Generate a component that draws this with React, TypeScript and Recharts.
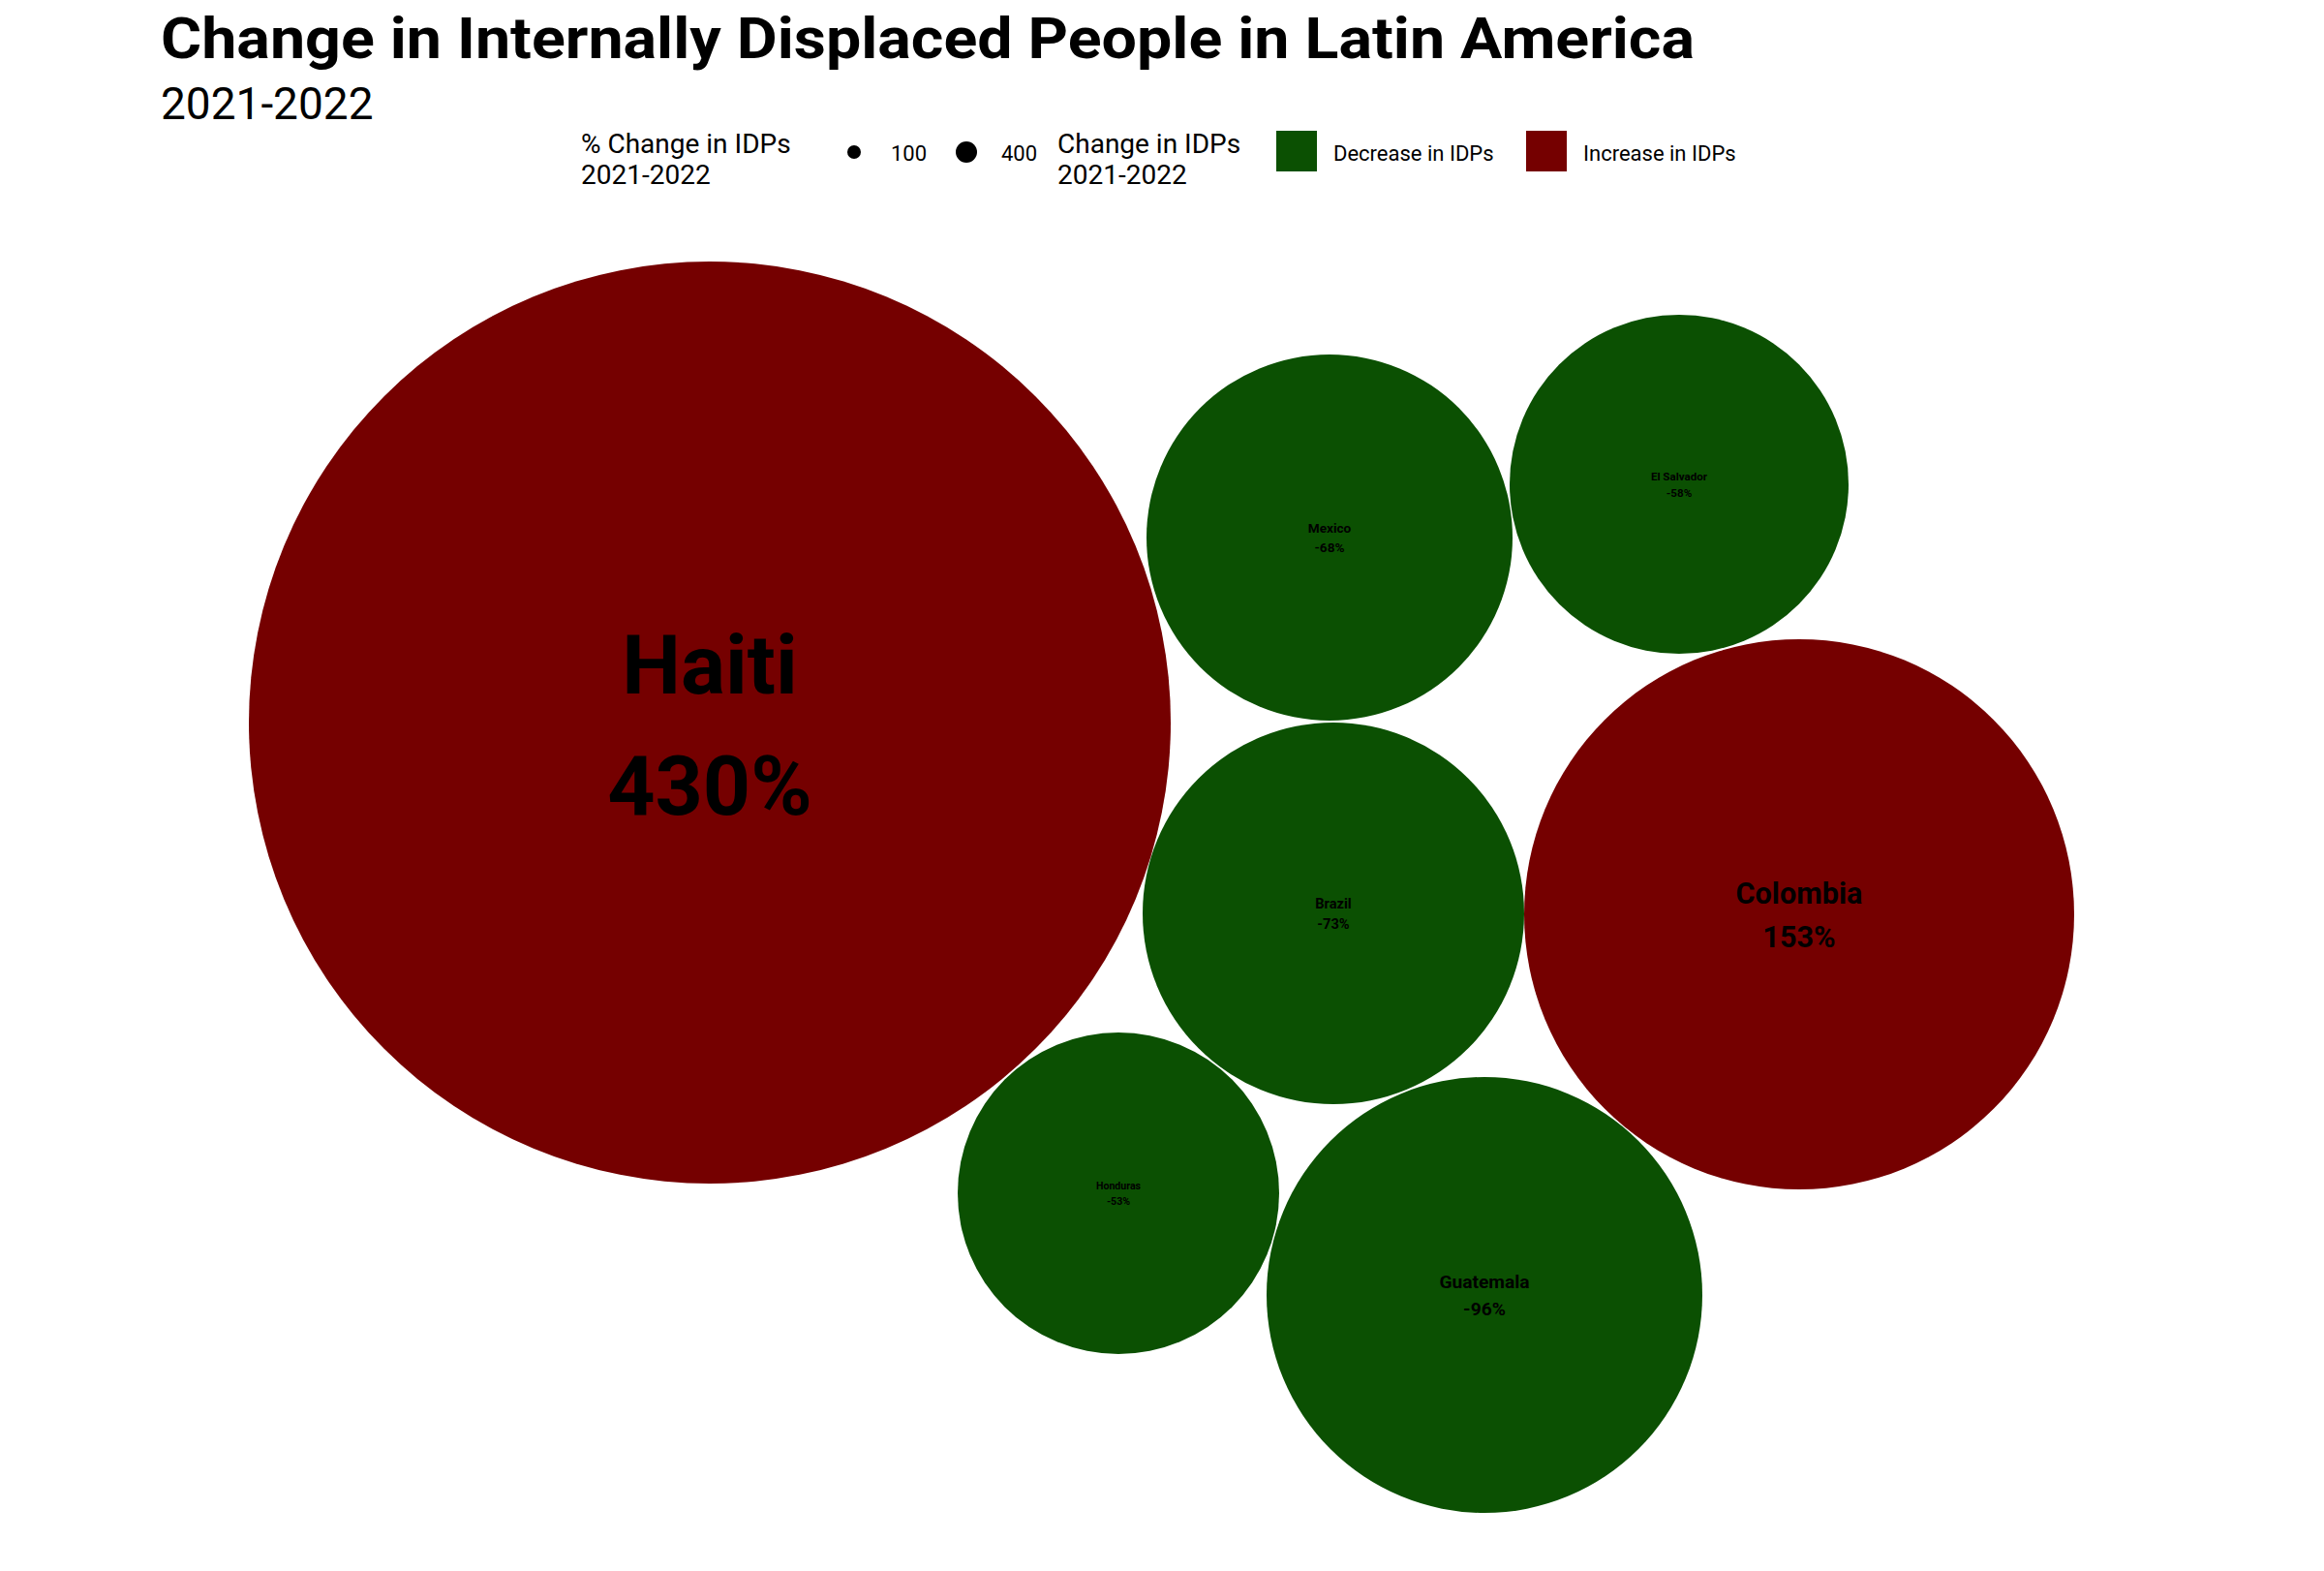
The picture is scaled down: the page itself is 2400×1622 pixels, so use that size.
import { ScatterChart, Scatter, XAxis, YAxis } from "recharts";

// circle-packing layout (x, y, radius in layout units) and % change
const countries = ["Haiti", "Mexico", "El Salvador", "Brazil", "Colombia", "Honduras", "Guatemala"];
const pctChange = [430, -68, -58, -73, 153, -53, -96];
const layoutX = [733, 1373, 1734, 1377, 1858, 1155, 1533];
const layoutY = [746, 555, 500, 943, 944, 1232, 1337];
const layoutR = [476, 189, 175, 197, 284, 166, 225];

const COLORS = { decrease: "#0B5002", increase: "#750000" };
const W = 2400;
const H = 1622;

const data = countries.map((name, i) => ({
  name,
  pct: pctChange[i],
  x: layoutX[i],
  y: layoutY[i],
  r: layoutR[i],
}));

const Bubble = (props: any) => {
  const { cx, cy, payload } = props;
  const fs = Math.abs(payload.pct) * 0.2;
  return (
    <g>
      <circle cx={cx} cy={cy} r={payload.r} fill={payload.pct < 0 ? COLORS.decrease : COLORS.increase} />
      <text x={cx} y={cy - fs * 0.35} textAnchor="middle" fontSize={fs} fontWeight="bold" fill="#000" fontFamily="Roboto">
        {payload.name}
      </text>
      <text x={cx} y={cy + fs * 1.1} textAnchor="middle" fontSize={fs} fontWeight="bold" fill="#000" fontFamily="Roboto">
        {payload.pct}%
      </text>
    </g>
  );
};

const legendFont = "Roboto, sans-serif";

export default function App() {
  return (
    <div style={{ position: "fixed", left: 0, top: 0, width: W, height: H, background: "#fff" }}>
      <ScatterChart width={W} height={H} margin={{ top: 0, right: 0, bottom: 0, left: 0 }}>
        <XAxis type="number" dataKey="x" domain={[0, W]} hide />
        <YAxis type="number" dataKey="y" domain={[0, H]} reversed hide />
        <Scatter data={data} shape={<Bubble />} isAnimationActive={false} />
      </ScatterChart>
      <svg width={W} height={H} style={{ position: "absolute", left: 0, top: 0, pointerEvents: "none" }}>
        <text x={166} y={60} fontSize={60} fontWeight="bold" fontFamily="Roboto" textLength={1584} lengthAdjust="spacingAndGlyphs">
          Change in Internally Displaced People in Latin America
        </text>
        <text x={166} y={123} fontSize={46} fontFamily="Roboto">2021-2022</text>
        <g fontFamily={legendFont} fill="#000">
          <text x={600} y={158} fontSize={28}>% Change in IDPs</text>
          <text x={600} y={190} fontSize={28}>2021-2022</text>
          <circle cx={882} cy={157} r={7} />
          <text x={920} y={166} fontSize={22}>100</text>
          <circle cx={998} cy={157} r={11} />
          <text x={1034} y={166} fontSize={22}>400</text>
          <text x={1092} y={158} fontSize={28}>Change in IDPs</text>
          <text x={1092} y={190} fontSize={28}>2021-2022</text>
          <rect x={1318} y={135} width={42} height={42} fill={COLORS.decrease} />
          <text x={1377} y={166} fontSize={22}>Decrease in IDPs</text>
          <rect x={1576} y={135} width={42} height={42} fill={COLORS.increase} />
          <text x={1635} y={166} fontSize={22}>Increase in IDPs</text>
        </g>
      </svg>
    </div>
  );
}
